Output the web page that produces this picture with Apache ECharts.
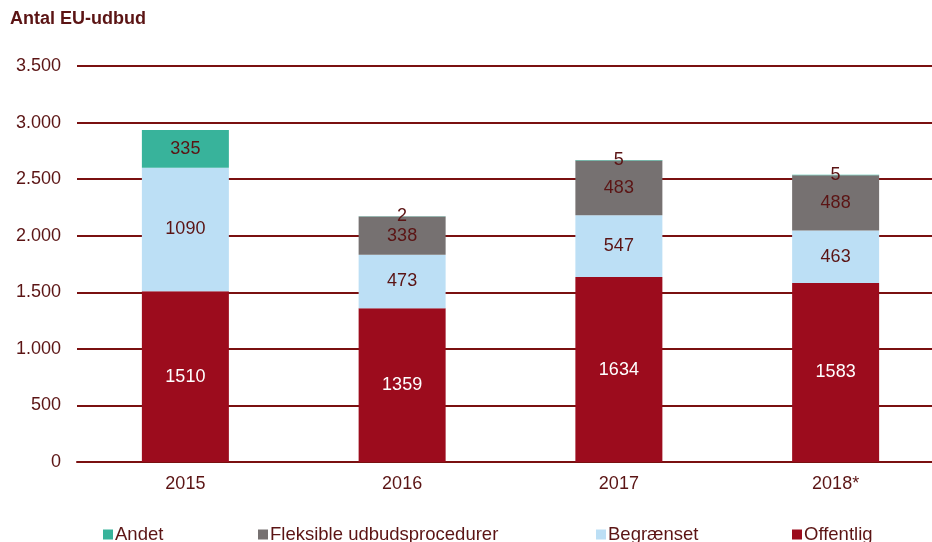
<!DOCTYPE html>
<html>
<head>
<meta charset="utf-8">
<script src="https://cdn.jsdelivr.net/npm/echarts@6/dist/echarts.min.js"></script>
<style>
  html, body { margin: 0; padding: 0; background: #fff; overflow: hidden; }
  #main { width: 944px; height: 542px; }
</style>
</head>
<body>
<div id="main"></div>
<script>
const years = ['2015', '2016', '2017', '2018*'];
const offentlig = [1510, 1359, 1634, 1583];
const begraenset = [1090, 473, 547, 463];
const fleksible = [0, 338, 483, 488];
const andet = [335, 2, 5, 5];
const yTicks = [0, 500, 1000, 1500, 2000, 2500, 3000, 3500];

const textColor = '#5b1414';
const lineColor = '#7a1010';
const font = 'Liberation Sans, Arial, sans-serif';

const chart = echarts.init(document.getElementById('main'));

const mkSeries = (name, data, color, labelColor) => ({
  name,
  type: 'bar',
  stack: 'total',
  data,
  barWidth: 87,
  itemStyle: {color},
  label: {
    show: true,
    position: 'inside',
    color: labelColor,
    fontSize: 18,
    fontFamily: font,
    formatter: p => p.value ? String(p.value) : ''
  },
  emphasis: {disabled: true}
});

const legendAt = (name, left) => ({
  data: [name],
  left,
  top: 525,
  padding: 0,
  itemWidth: 10,
  itemHeight: 10,
  icon: 'rect',
  itemGap: 4,
  textStyle: {color: textColor, fontSize: 18.5, fontFamily: font, padding: [0, 0, 0, -3]}
});

chart.setOption({
  animation: false,
  title: {
    text: 'Antal EU-udbud',
    left: 5,
    top: 5,
    textStyle: {color: textColor, fontSize: 18, fontWeight: 'bold', fontFamily: font}
  },
  grid: {left: 77, right: 0, top: 66, bottom: 80},
  legend: [
    legendAt('Andet', 103),
    legendAt('Fleksible udbudsprocedurer', 258),
    legendAt('Begrænset', 596),
    legendAt('Offentlig', 792)
  ],
  xAxis: {
    type: 'category',
    data: years,
    axisLine: {show: true, lineStyle: {color: lineColor, width: 2}},
    axisTick: {show: false},
    axisLabel: {color: textColor, fontSize: 18, fontFamily: font, margin: 13}
  },
  yAxis: {
    type: 'value',
    min: yTicks[0],
    max: yTicks[yTicks.length - 1],
    interval: 500,
    axisLine: {show: false},
    axisTick: {show: false},
    splitLine: {lineStyle: {color: lineColor, width: 2}},
    axisLabel: {
      color: textColor,
      fontSize: 18,
      fontFamily: font,
      margin: 16,
      formatter: v => v.toString().replace(/\B(?=(\d{3})+(?!\d))/g, '.')
    }
  },
  series: [
    mkSeries('Offentlig', offentlig, '#9c0c1d', '#ffffff'),
    mkSeries('Begrænset', begraenset, '#bcdff5', textColor),
    mkSeries('Fleksible udbudsprocedurer', fleksible, '#767171', textColor),
    mkSeries('Andet', andet, '#38b39b', textColor)
  ]
});
</script>
</body>
</html>
